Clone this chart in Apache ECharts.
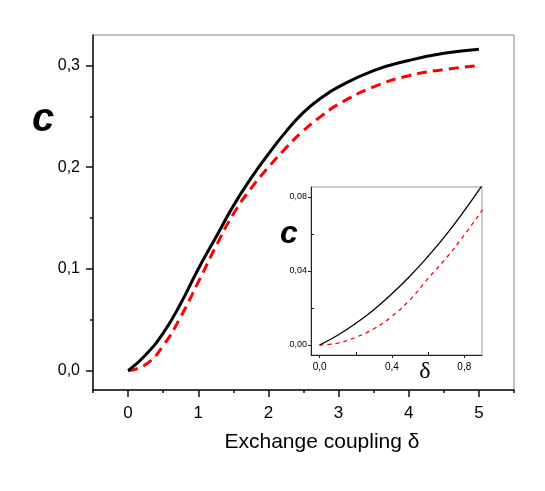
<!DOCTYPE html>
<html>
<head>
<meta charset="utf-8">
<script src="https://cdn.jsdelivr.net/npm/echarts@6/dist/echarts.min.js"></script>
<style>html,body{margin:0;padding:0;background:#fff}#c{width:545px;height:491px}</style>
</head>
<body>
<div id="c"></div>
<script>
// Main panel data
const mainDelta  = [0, 0.25, 0.5, 0.75, 1, 1.25, 1.5, 1.75, 2, 2.25, 2.5, 2.75, 3, 3.5, 4, 4.5, 5];
const mainSolid  = [0, 0.0155, 0.037, 0.066, 0.100, 0.131, 0.162, 0.189, 0.213, 0.235, 0.254, 0.268, 0.279, 0.295, 0.305, 0.312, 0.316];
const mainDashed = [0, 0.006, 0.0245, 0.053, 0.087, 0.122, 0.154, 0.179, 0.200, 0.219, 0.236, 0.250, 0.262, 0.279, 0.290, 0.296, 0.300];
// Inset data
const insetDelta  = [0, 0.1, 0.2, 0.3, 0.4, 0.5, 0.6, 0.7, 0.8, 0.9];
const insetSolid  = [0, 0.0053, 0.0117, 0.0191, 0.0277, 0.0373, 0.048, 0.0597, 0.0726, 0.0865];
const insetDashed = [0, 0.001, 0.0042, 0.0088, 0.0155, 0.0245, 0.036, 0.047, 0.0595, 0.073];
// Tick labels
const mainXTicks = [0, 1, 2, 3, 4, 5];
const mainXMinor = [-0.5, 0.5, 1.5, 2.5, 3.5, 4.5, 5.5];
const mainYTicks = [0, 0.1, 0.2, 0.3];
const mainYMinor = [0.05, 0.15, 0.25];
const insetXTicks = [0, 0.4, 0.8];
const insetXMinor = [0.2, 0.6];
const insetYTicks = [0, 0.04, 0.08];
const insetYMinor = [0.02, 0.06];

const pair = (xs, ys) => xs.map((x, i) => [x, ys[i]]);
const comma = d => v => v.toFixed(d).replace('.', ',');
const FONT = '"Liberation Sans", Arial, sans-serif';

const chart = echarts.init(document.getElementById('c'), null, {renderer: 'canvas'});
chart.setOption({
  animation: false,
  backgroundColor: '#fff',
  grid: [
    {left: 93, top: 35, width: 421, height: 355, show: true, borderColor: '#888', borderWidth: 1, backgroundColor: 'transparent'},
    {left: 311, top: 187, width: 171, height: 168, show: true, borderColor: '#999', borderWidth: 1, backgroundColor: '#fff'}
  ],
  xAxis: [
    {type: 'value', gridIndex: 0, position: 'bottom', min: -0.5, max: 5.5,
     axisLine: {show: true, onZero: false, lineStyle: {color: '#111', width: 1.5}},
     axisTick: {show: true, customValues: mainXTicks, length: 7, lineStyle: {color: '#111', width: 1.5}},
     axisLabel: {show: true, customValues: mainXTicks, formatter: v => String(v), margin: 15, fontSize: 17, color: '#000', fontFamily: FONT},
     splitLine: {show: false}},
    {type: 'value', gridIndex: 0, position: 'bottom', min: -0.5, max: 5.5,
     axisLine: {show: false, onZero: false},
     axisTick: {show: true, customValues: mainXMinor, length: 3, lineStyle: {color: '#111', width: 1.5}},
     axisLabel: {show: false}, splitLine: {show: false}},
    {type: 'value', gridIndex: 1, position: 'bottom', min: -0.0475, max: 0.8977,
     axisLine: {show: true, onZero: false, lineStyle: {color: '#222', width: 1}},
     axisTick: {show: true, customValues: insetXTicks, length: 3, lineStyle: {color: '#222', width: 1}},
     axisLabel: {show: true, customValues: insetXTicks, formatter: comma(1), margin: 7, fontSize: 10, color: '#000', fontFamily: FONT},
     splitLine: {show: false}},
    {type: 'value', gridIndex: 1, position: 'bottom', min: -0.0475, max: 0.8977,
     axisLine: {show: false, onZero: false},
     axisTick: {show: true, inside: true, customValues: insetXMinor, length: 3, lineStyle: {color: '#222', width: 1}},
     axisLabel: {show: false}, splitLine: {show: false}}
  ],
  yAxis: [
    {type: 'value', gridIndex: 0, position: 'left', min: -0.019, max: 0.33,
     axisLine: {show: true, onZero: false, lineStyle: {color: '#111', width: 1.5}},
     axisTick: {show: true, customValues: mainYTicks, length: 7, lineStyle: {color: '#111', width: 1.5}},
     axisLabel: {show: true, customValues: mainYTicks, formatter: comma(1), margin: 13, fontSize: 16, color: '#000', fontFamily: FONT},
     splitLine: {show: false}},
    {type: 'value', gridIndex: 0, position: 'left', min: -0.019, max: 0.33,
     axisLine: {show: false, onZero: false},
     axisTick: {show: true, customValues: mainYMinor, length: 3, lineStyle: {color: '#111', width: 1.5}},
     axisLabel: {show: false}, splitLine: {show: false}},
    {type: 'value', gridIndex: 1, position: 'left', min: -0.0054, max: 0.0854,
     axisLine: {show: true, onZero: false, lineStyle: {color: '#222', width: 1}},
     axisTick: {show: true, customValues: insetYTicks, length: 3, lineStyle: {color: '#222', width: 1}},
     axisLabel: {show: true, customValues: insetYTicks, formatter: comma(2), margin: 4, fontSize: 9, color: '#000', fontFamily: FONT},
     splitLine: {show: false}},
    {type: 'value', gridIndex: 1, position: 'left', min: -0.0054, max: 0.0854,
     axisLine: {show: false, onZero: false},
     axisTick: {show: true, inside: true, customValues: insetYMinor, length: 3, lineStyle: {color: '#222', width: 1}},
     axisLabel: {show: false}, splitLine: {show: false}}
  ],
  series: [
    {type: 'line', xAxisIndex: 0, yAxisIndex: 0, data: pair(mainDelta, mainSolid), smooth: 0.5, showSymbol: false,
     lineStyle: {color: '#000', width: 3, type: 'solid'}, z: 3},
    {type: 'line', xAxisIndex: 0, yAxisIndex: 0, data: pair(mainDelta, mainDashed), smooth: 0.5, showSymbol: false,
     lineStyle: {color: '#ff0000', width: 3, type: [10, 6]}, z: 2},
    {type: 'line', xAxisIndex: 2, yAxisIndex: 2, data: pair(insetDelta, insetSolid), smooth: 0.5, showSymbol: false,
     lineStyle: {color: '#000', width: 1.3, type: 'solid'}, z: 5},
    {type: 'line', xAxisIndex: 2, yAxisIndex: 2, data: pair(insetDelta, insetDashed), smooth: 0.5, showSymbol: false,
     lineStyle: {color: '#ff0000', width: 1.3, type: [4, 4]}, z: 4}
  ],
  graphic: [
    {type: 'text', z: 10,
     style: {text: 'c', x: 43, y: 120, align: 'center', verticalAlign: 'middle', font: 'italic bold 40px ' + FONT, fill: '#000'}},
    {type: 'text', z: 10,
     style: {text: 'Exchange coupling δ', x: 322, y: 442, align: 'center', verticalAlign: 'middle', font: '21px ' + FONT, fill: '#000'}},
    {type: 'text', z: 10,
     style: {text: 'c', x: 289, y: 234, align: 'center', verticalAlign: 'middle', font: 'italic bold 32px ' + FONT, fill: '#000'}},
    {type: 'text', z: 10,
     style: {text: 'δ', x: 425, y: 372, align: 'center', verticalAlign: 'middle', font: '24px "Liberation Serif", serif', fill: '#000'}}
  ]
});
</script>
</body>
</html>
